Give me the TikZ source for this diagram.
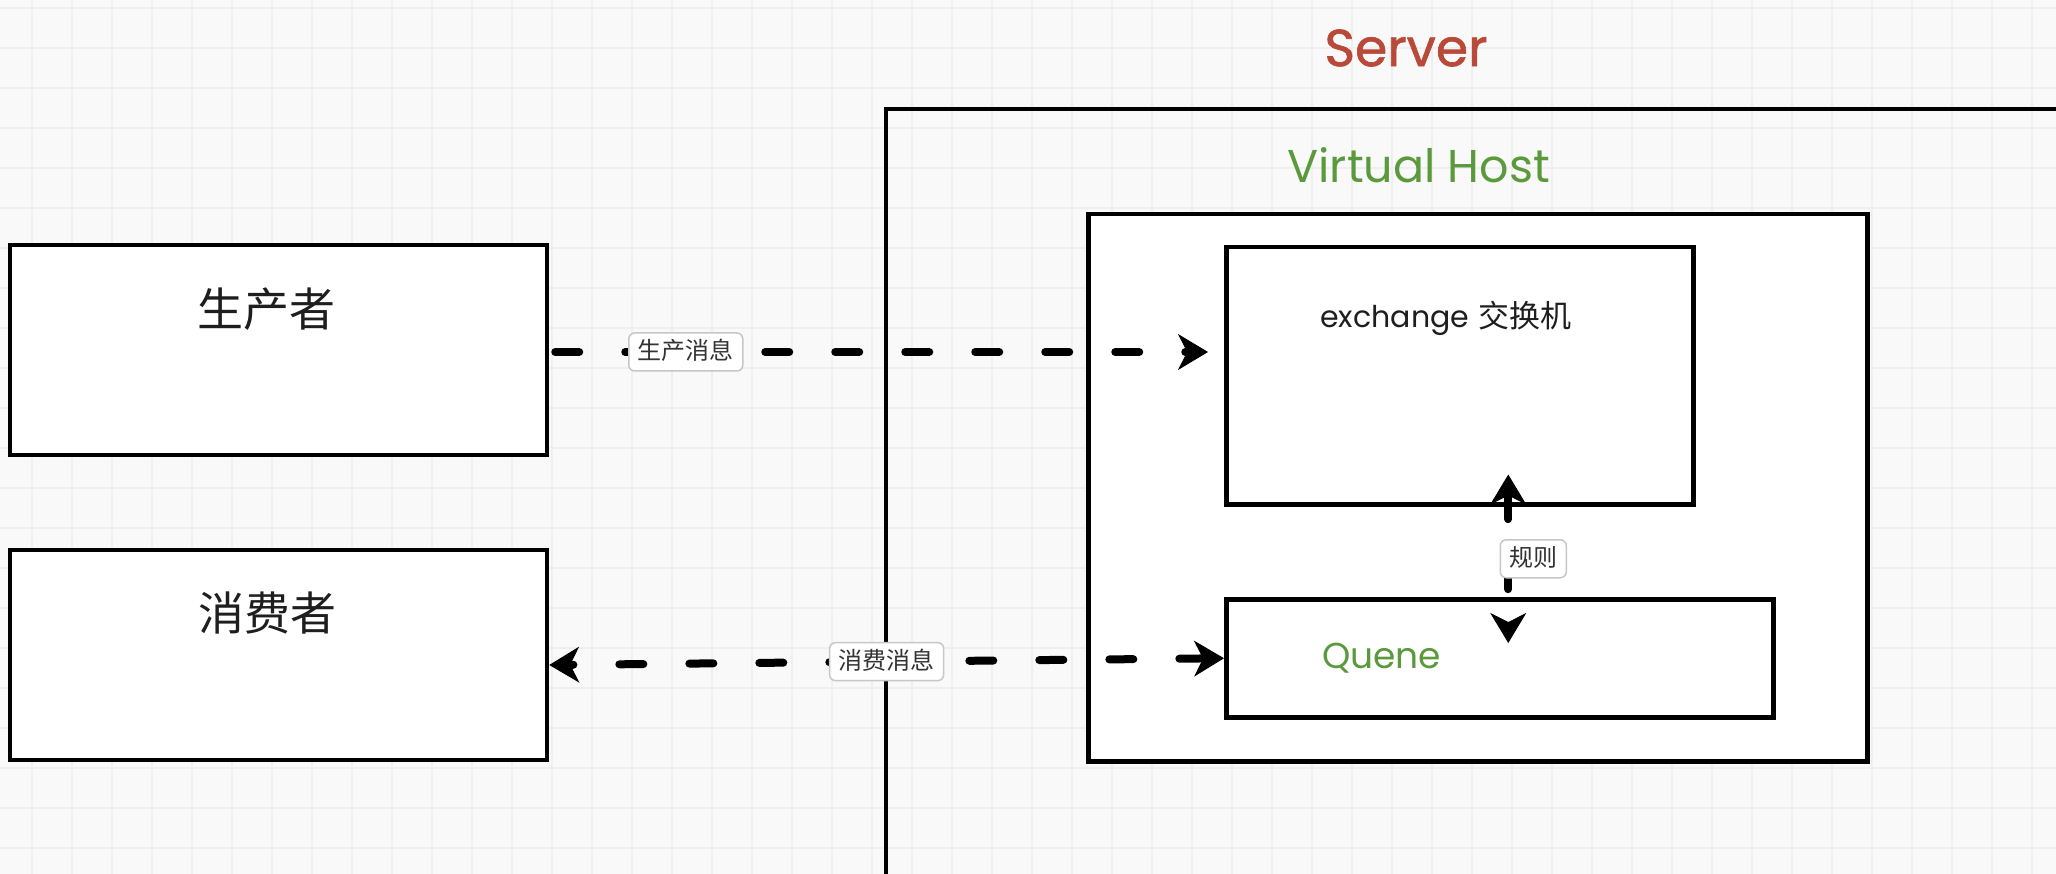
\documentclass[tikz,border=0pt]{standalone}
\usepackage{fontspec}
\newfontfamily\cjk{Noto Sans CJK SC}
\newfontfamily\lat{Poppins}
\newfontfamily\latb{Poppins}[FakeBold=1.2]
\usetikzlibrary{arrows.meta,calc}
\definecolor{bgc}{HTML}{F9F9F9}
\definecolor{gridc}{HTML}{EFEFEF}
\definecolor{srvred}{HTML}{B94A3A}
\definecolor{vhgreen}{HTML}{5A9A3C}
\definecolor{ink}{HTML}{1E1E1E}
\begin{document}
\begin{tikzpicture}[x=1pt,y=-1pt,
  box/.style={draw=black, line width=4.5pt, fill=white, inner sep=0pt},
  frame/.style={draw=black, line width=4pt, inner sep=0pt},
  flow/.style={line width=8pt, line cap=round, dash pattern=on 24pt off 46pt, draw=black},
  elabel/.style={draw=black!22, solid, line cap=butt, line width=1.5pt, fill=white, rounded corners=6pt,
    font=\cjk\fontsize{24}{24}\selectfont, text=black!80, inner xsep=9pt, inner ysep=7pt,
    text height=20pt, text depth=4pt},
  bigcjk/.style={font=\cjk\fontsize{46}{46}\selectfont, text=ink, inner sep=0pt},
  gridline/.style={draw=gridc, line width=2pt},
  hd/.tip={Stealth[length=30pt,width=36pt,inset=9pt,line width=1pt]},
]
\useasboundingbox (0,0) rectangle (2056,874);
\clip (0,0) rectangle (2056,874);
\fill[bgc] (0,0) rectangle (2056,874);
\foreach \x in {32,72,...,2056} \draw[gridline] (\x,0) -- (\x,874);
\foreach \y in {8,48,...,874} \draw[gridline] (0,\y) -- (2056,\y);

% containers
\node[frame, anchor=north west, minimum width=1240pt, minimum height=840pt] (srv) at (884,107) {};
\node[box, anchor=north west, minimum width=779pt, minimum height=547pt] (vh) at (1086,212) {};
\node[box, anchor=north west, minimum width=467pt, minimum height=257pt] (exch) at (1224,245) {};
\node[box, anchor=north west, minimum width=547pt, minimum height=118pt] (queue) at (1224,597) {};
\node[box, minimum width=537pt, minimum height=210pt] (prod) at (278.5,350) {};
\node[box, minimum width=537pt, minimum height=210pt] (cons) at (278.5,655) {};

% texts
\node[font=\latb\fontsize{52}{52}\selectfont, text=srvred, inner sep=0pt] (srvt) at (1406,48) {Server};
\node[font=\lat\fontsize{46}{46}\selectfont, text=vhgreen, inner sep=0pt] (vht) at ([xshift=-59pt,yshift=47pt]vh.north) {Virtual Host};
\node[inner sep=0pt, text=ink] (exct) at ([xshift=-14pt,yshift=-73pt]exch.north)
  {{\lat\fontsize{30}{30}\selectfont exchange}\hspace{9pt}{\cjk\fontsize{31}{31}\selectfont 交换机}};
\node[font=\lat\fontsize{36}{36}\selectfont, text=vhgreen, anchor=west, inner sep=0pt] (qt) at ([xshift=98pt]queue.west) {Quene};
\node[bigcjk] (prodt) at ([xshift=-12pt,yshift=-66pt]prod.north) {生产者};
\node[bigcjk] (const) at ([xshift=-11pt,yshift=-65pt]cons.north) {消费者};

% connectors
\draw[flow, -hd]
  ($(prod.east)+(6,2)$) -- ($(prod.east -| exch.west)+(-16,2)$)
  node[elabel, pos=0.2] (l1) {生产消息};
\draw[flow, hd-hd]
  (queue.west) -- ($(cons.east)+(0,10)$)
  node[elabel, midway] (l2) {消费消息};
\draw[flow, hd-hd]
  ($(exch.south)+(48.5,-32)$) -- ($(queue.north)+(8.5,46)$)
  node[elabel, midway, xshift=25pt] (l3) {规则};
\end{tikzpicture}
\end{document}
